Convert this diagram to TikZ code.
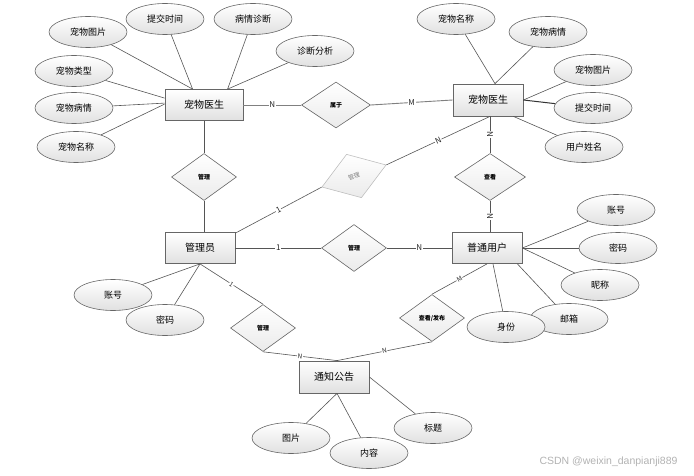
\documentclass[tikz,border=0pt]{standalone}
\usepackage{fontspec}
\setmainfont{Noto Sans CJK SC}
\newfontfamily\wmfont{Liberation Sans}
\usetikzlibrary{shapes.geometric}
\definecolor{lnc}{HTML}{555555}
\definecolor{bdc}{HTML}{666666}
\begin{document}
\begin{tikzpicture}[x=1pt,y=-1pt,
  ent/.style={draw=bdc, line width=0.8pt, rectangle, minimum width=70pt, minimum height=31pt, inner sep=0pt,
    top color=white, bottom color=black!12, font=\fontsize{10}{12}\selectfont},
  att/.style={draw=bdc, line width=0.6pt, ellipse, minimum width=78pt, minimum height=31pt, inner sep=0pt,
    top color=white, bottom color=black!12, font=\fontsize{9}{11}\selectfont},
  rel/.style={draw=bdc, line width=0.6pt, diamond, minimum width=65pt, minimum height=47pt, inner sep=0pt,
    top color=white, bottom color=black!8, font=\fontsize{6}{7}\selectfont\bfseries},
  relfaded/.style={draw=black!25, line width=0.6pt, diamond, minimum width=68pt, minimum height=46pt, inner sep=0pt,
    top color=white, bottom color=black!8, text=black!50, font=\fontsize{6}{7}\selectfont},
  ln/.style={draw=lnc, line width=0.6pt},
  lab/.style={fill=white, inner sep=0.6pt, font=\fontsize{8}{9}\selectfont, text=black!85}
]
\useasboundingbox (0,0) rectangle (694,476);

% entities
\node[ent, minimum width=78pt] (dl) at (204,105) {宠物医生};
\node[ent, minimum height=32pt] (dr) at (488,100) {宠物医生};
\node[ent] (adm) at (200,248) {管理员};
\node[ent] (usr) at (487,248) {普通用户};
\node[ent, minimum height=32pt] (ntc) at (334,377) {通知公告};

% relationships
\node[rel, minimum width=69pt, minimum height=46pt] (r1) at (336,105) {属于};
\node[rel] (r2) at (204,177) {管理};
\node[rel, minimum width=71pt] (r3) at (490,177) {查看};
\node[rel] (r4) at (354,248) {管理};
\node[rel] (r5) at (263,328) {管理};
\node[rel] (r6) at (432,318) {查看/发布};
\node[relfaded, rotate=19] (r7) at (354,176) {管理};

% left doctor attributes
\node[att] (a1) at (88,32) {宠物图片};
\node[att] (a2) at (165,19) {提交时间};
\node[att] (a3) at (253,19) {病情诊断};
\node[att] (a4) at (315,51) {诊断分析};
\node[att] (a5) at (74,71) {宠物类型};
\node[att] (a6) at (74,108) {宠物病情};
\node[att] (a7) at (76,147) {宠物名称};

% right doctor attributes
\node[att] (b1) at (456,19) {宠物名称};
\node[att] (b2) at (548,32) {宠物病情};
\node[att] (b3) at (593,70) {宠物图片};
\node[att] (b4) at (593,108) {提交时间};
\node[att] (b5) at (584,147) {用户姓名};

% user attributes
\node[att] (u1) at (616,210) {账号};
\node[att] (u2) at (618,248) {密码};
\node[att] (u3) at (600,285) {昵称};
\node[att] (u4) at (569,319) {邮箱};
\node[att] (u5) at (506,327) {身份};

% admin attributes
\node[att] (m1) at (113,295) {账号};
\node[att] (m2) at (165,320) {密码};

% notice attributes
\node[att] (n1) at (291,438) {图片};
\node[att] (n2) at (369,453) {内容};
\node[att] (n3) at (433,428) {标题};

% attribute connectors
\draw[ln] (a1) -- ([xshift=28pt]dl.north west);
\draw[ln] (a2) -- ([xshift=28pt]dl.north west);
\draw[ln] (a3) -- ([xshift=63pt]dl.north west);
\draw[ln] (a4) -- ([xshift=63pt]dl.north west);
\draw[ln] (a5) -- ([yshift=-9pt]dl.north west);
\draw[ln] (a6) -- ([yshift=-14pt]dl.north west);
\draw[ln] (a7) -- ([yshift=-15pt]dl.north west);

\draw[ln] (b1) -- ([xshift=7pt]dr.north);
\draw[ln] (b2) -- ([xshift=7pt]dr.north);
\draw[ln] (b3) -- (dr.east);
\draw[ln, line width=1pt, draw=black!80] (b4) -- (dr.east);
\draw[ln] (b5) -- ([xshift=-10pt]dr.south east);

\draw[ln] (u1) -- (usr.east);
\draw[ln] (u2) -- (usr.east);
\draw[ln] (u3) -- (usr.east);
\draw[ln] (u4) -- ([xshift=-5pt]usr.south east);
\draw[ln] (u5) -- ([xshift=6pt]usr.south);

\draw[ln] (m1) -- (adm.south);
\draw[ln] (m2) -- (adm.south);

\draw[ln] (n1) -- ([xshift=3pt]ntc.south);
\draw[ln] (n2) -- ([xshift=3pt]ntc.south);
\draw[ln] (n3) -- (ntc.east);

% relationship connectors
\draw[ln, draw=black!50, line width=0.9pt] (dl.east) -- node[lab] {N} (r1.west);
\draw[ln, draw=black!50, line width=0.9pt] (r1.east) -- node[lab] {M} (dr.west);
\draw[ln] (dl.south) -- (r2.north);
\draw[ln] (r2.south) -- ([xshift=4pt]adm.north);
\draw[ln] (adm.east) -- node[lab] {1} (r4.west);
\draw[ln] (r4.east) -- node[lab] {N} (usr.west);
\draw[ln] ([xshift=2pt]dr.south) -- node[lab, sloped] {N} (r3.north);
\draw[ln] (r3.south) -- node[lab, sloped] {N} ([xshift=3pt]usr.north);
\draw[ln] ([yshift=-1pt]adm.north east) -- node[lab, sloped] {1} (r7.west);
\draw[ln] (r7.east) -- node[lab, sloped] {N} ([xshift=2pt]dr.south);
\draw[ln] (adm.south) -- node[lab, sloped, font=\fontsize{6.5}{7}\selectfont] {1} (r5.north);
\draw[ln] (r5.south) -- node[lab, sloped, font=\fontsize{6.5}{7}\selectfont] {N} ([xshift=3pt]ntc.north);
\draw[ln] (usr.south) -- node[lab, sloped, font=\fontsize{6.5}{7}\selectfont] {M} (r6.north);
\draw[ln] (r6.south) -- node[lab, sloped, font=\fontsize{6.5}{7}\selectfont] {N} ([xshift=3pt]ntc.north);

% watermark
\node[anchor=east, text=black!30, font=\wmfont\fontsize{10.5}{12}\selectfont] (wm) at (681,462) {CSDN @weixin\_danpianji889};
\end{tikzpicture}
\end{document}
